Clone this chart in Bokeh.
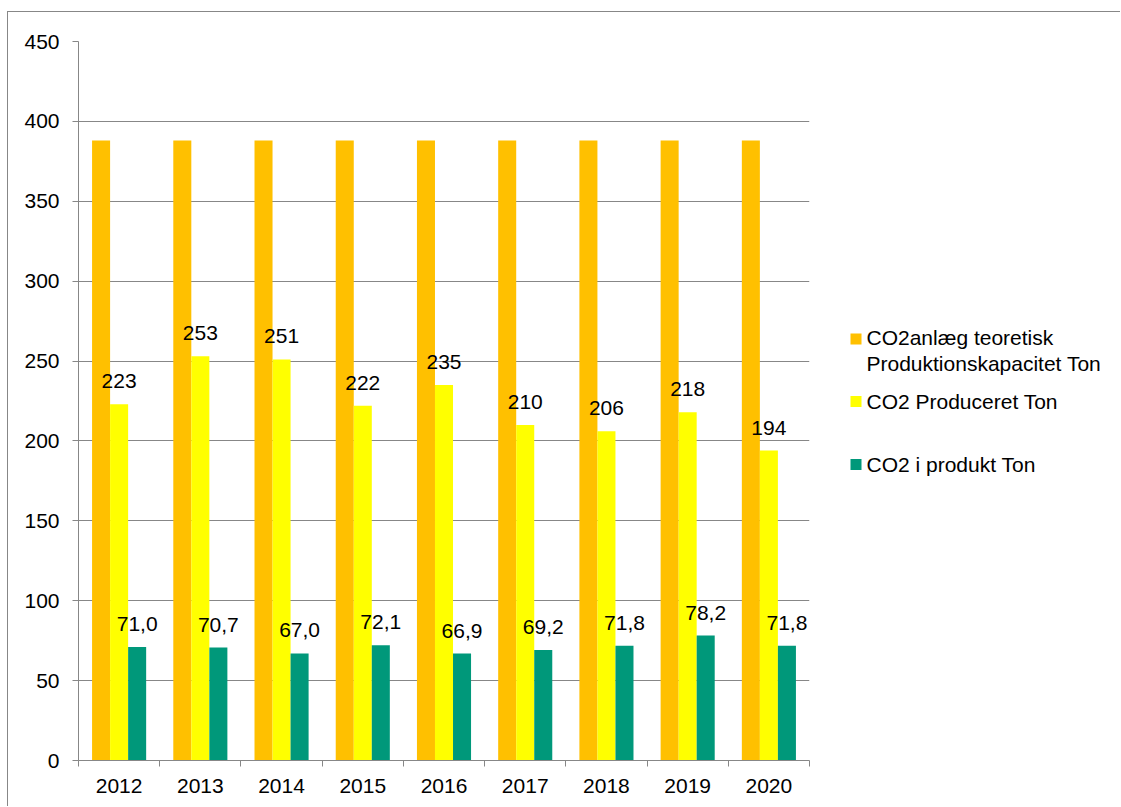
from bokeh.plotting import figure
from bokeh.models import Range1d, FixedTicker, ColumnDataSource
from bokeh.transform import dodge
from bokeh.layouts import row
from bokeh.core.properties import value
from bokeh.embed import file_html
from bokeh.resources import INLINE

# ---- data ----
years = ["2012", "2013", "2014", "2015", "2016", "2017", "2018", "2019", "2020"]
capacity = [388, 388, 388, 388, 388, 388, 388, 388, 388]
produced = [223, 253, 251, 222, 235, 210, 206, 218, 194]
in_product = [71.0, 70.7, 67.0, 72.1, 66.9, 69.2, 71.8, 78.2, 71.8]
y_ticks = [0, 50, 100, 150, 200, 250, 300, 350, 400, 450]
series_names = ["CO2anlæg teoretisk\nProduktionskapacitet Ton", "CO2 Produceret Ton", "CO2 i produkt Ton"]
colors = ["#FFC000", "#FFFF00", "#00987A"]

FONT = "Liberation Sans"
GRAY = "#878787"
MX, MY = 7, 11          # outer chart border position on the page
OX, OY = MX + 1, MY + 1  # page position of the canvases (inside the 1px border)
FRAME_LEFT, FRAME_RIGHT = 78, 809
FRAME_TOP, FRAME_BOTTOM = 41, 760

idx = list(range(len(years)))
src = ColumnDataSource(data=dict(
    x=idx,
    cap=capacity,
    prod=produced,
    inprod=in_product,
    prod_lbl=[str(v) for v in produced],
    inprod_lbl=[f"{v:.1f}".replace(".", ",") for v in in_product],
))

W1 = 830 - OX
H = 807 - OY - 1
p = figure(width=W1, height=H, output_backend="svg", toolbar_location=None,
           x_range=Range1d(-0.5, len(years) - 0.5), y_range=Range1d(0, 450),
           min_border_left=FRAME_LEFT - OX, min_border_top=FRAME_TOP - OY,
           min_border_right=W1 - (FRAME_RIGHT - OX), min_border_bottom=H - (FRAME_BOTTOM - OY))
p.outline_line_color = None
p.background_fill_color = "white"
p.border_fill_color = "white"

bw = 0.222
p.vbar(x=dodge("x", -bw, range=p.x_range), top="cap", width=bw, source=src,
       fill_color=colors[0], line_color=None)
p.vbar(x=dodge("x", 0, range=p.x_range), top="prod", width=bw, source=src,
       fill_color=colors[1], line_color=None)
p.vbar(x=dodge("x", bw, range=p.x_range), top="inprod", width=bw, source=src,
       fill_color=colors[2], line_color=None)

p.text(x=dodge("x", 0, range=p.x_range), y="prod", text="prod_lbl", source=src,
       text_align="center", text_baseline="alphabetic", y_offset=-23,
       text_font=value(FONT), text_font_size="21px", text_color="black")
p.text(x=dodge("x", bw, range=p.x_range), y="inprod", text="inprod_lbl", source=src,
       text_align="center", text_baseline="alphabetic", y_offset=-23,
       text_font=value(FONT), text_font_size="21px", text_color="black")

# y axis
p.yaxis.ticker = FixedTicker(ticks=y_ticks)
p.yaxis.axis_line_color = GRAY
p.yaxis.major_tick_line_color = GRAY
p.yaxis.major_tick_out = 6
p.yaxis.major_tick_in = 0
p.yaxis.minor_tick_line_color = None
p.yaxis.major_label_standoff = 13
p.yaxis.major_label_text_font = FONT
p.yaxis.major_label_text_font_size = "21px"
p.yaxis.major_label_text_color = "black"

# x axis: labels at category centres, ticks at category boundaries
p.xaxis.ticker = FixedTicker(ticks=idx, minor_ticks=[i - 0.5 for i in range(len(years) + 1)])
p.xaxis.major_label_overrides = {i: y for i, y in zip(idx, years)}
p.xaxis.axis_line_color = GRAY
p.xaxis.major_tick_out = 0
p.xaxis.major_tick_in = 0
p.xaxis.major_tick_line_color = None
p.xaxis.minor_tick_line_color = GRAY
p.xaxis.minor_tick_out = 6
p.xaxis.minor_tick_in = 0
p.xaxis.major_label_standoff = 12
p.xaxis.major_label_text_font = FONT
p.xaxis.major_label_text_font_size = "21px"
p.xaxis.major_label_text_color = "black"

p.xgrid.grid_line_color = None
p.ygrid.grid_line_color = GRAY
p.ygrid.grid_line_width = 1

# ---- legend panel (coordinates are page pixels; its frame is aligned with the main frame) ----
W2 = 1121 - (OX + W1) - 1
leg = figure(width=W2, height=H, output_backend="svg", toolbar_location=None,
             x_range=Range1d(OX + W1, OX + W1 + W2), y_range=Range1d(FRAME_BOTTOM, FRAME_TOP),
             min_border=0, min_border_left=0, min_border_right=0,
             min_border_top=FRAME_TOP - OY, min_border_bottom=H - (FRAME_BOTTOM - OY))
leg.axis.visible = False
leg.grid.visible = False
leg.outline_line_color = None
leg.background_fill_color = "white"
leg.border_fill_color = "white"

leg_y = [349.9, 401, 464]
sq_y = [338.5, 401, 464]
lsrc = ColumnDataSource(data=dict(ty=leg_y, sy=sq_y, name=series_names, color=colors,
                                  sx=[855.5] * 3, tx=[866] * 3))
leg.rect(x="sx", y="sy", width=11, height=11, fill_color="color", line_color=None, source=lsrc)
leg.text(x="tx", y="ty", text="name", source=lsrc, text_align="left", text_baseline="middle",
         text_font=value(FONT), text_font_size="21px", text_color="black", text_line_height=1.13)

layout = row(p, leg, styles={"border-left": "1px solid #878787", "border-top": "1px solid #878787",
                             "margin-left": f"{MX}px", "margin-top": f"{MY}px"})

open("out.html", "w").write(file_html(layout, INLINE))
